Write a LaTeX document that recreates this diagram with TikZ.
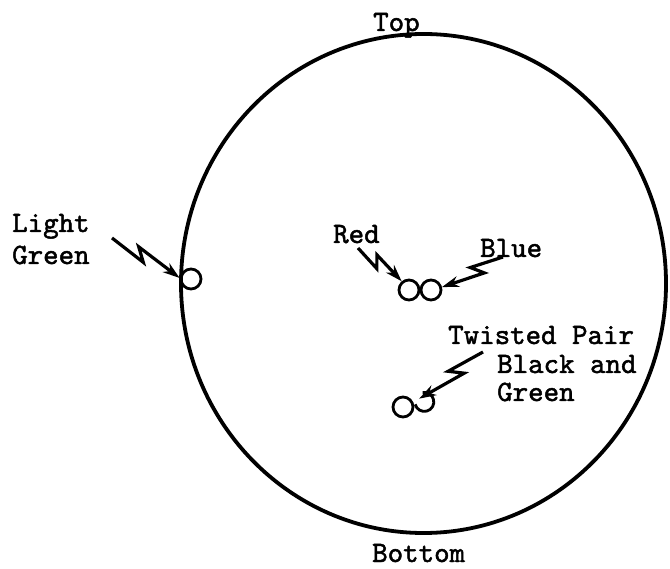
\documentclass[tikz,border=0pt]{standalone}
\usepackage{fontspec}
\usetikzlibrary{calc,arrows.meta}
\newfontfamily\tw{lmmono10-regular.otf}[AutoFakeBold=1.6]
\newcommand\zapto[2]{\draw[zap] (#1) -- ($(#1)!0.5!(#2)!5pt!-90:(#2)$) -- ($(#1)!0.35!(#2)!6pt!90:(#2)$) -- (#2);}
\begin{document}
\begin{tikzpicture}[x=1pt,y=-1pt,
  lbl/.style={font=\tw\bfseries\fontsize{29.5}{31}\selectfont, anchor=base west, inner sep=0pt, text height=18pt, text depth=4pt},
  wire/.style={circle, draw, line width=2.8pt, minimum size=20pt, inner sep=0pt},
  zap/.style={line width=3.2pt, -{Stealth[length=17pt,width=11pt]}, line join=miter}]
\useasboundingbox (0,0) rectangle (670,569);
\fill[white] (0,0) rectangle (670,569);
\draw[line width=3.8pt] (423.5,283.5) ellipse [x radius=242.5pt, y radius=249.5pt];
% labels
\node[lbl] (top) at (373,31) {Top};
\node[lbl] (bottom) at (372,562) {Bottom};
\node[lbl] (light) at (12,232) {Light};
\node[lbl] (lgreen) at (12,264) {Green};
\node[lbl] (red) at (333,243) {Red};
\node[lbl] (blue) at (480,257) {Blue};
\node[lbl] (twisted) at (448,344) {Twisted Pair};
\node[lbl, text depth=0pt] (black) at (497,373) {Black and};
\node[lbl] (tgreen) at (497,401) {Green};
% wires
\node[wire] (lgw) at (191,279) {};
\node[wire] (redw) at (409,290) {};
\node[wire] (bluew) at (431,290) {};
\node[wire] (blk) at (403,407) {};
\node[circle, minimum size=20pt, inner sep=0pt] (grn) at (425,407) {};
\draw[line width=2.8pt] (grn.165) arc[start angle=-165, end angle=100, radius=9.5pt];
% arrow tails
\coordinate (lgt) at (112,238);
\coordinate (redt) at (358,248);
\coordinate (bluet) at (503,257);
\coordinate (twt) at (483,352);
\zapto{lgt}{lgw.175}
\zapto{redt}{redw.130}
\zapto{bluet}{bluew.15}
\zapto{twt}{grn.125}
\end{tikzpicture}
\end{document}
